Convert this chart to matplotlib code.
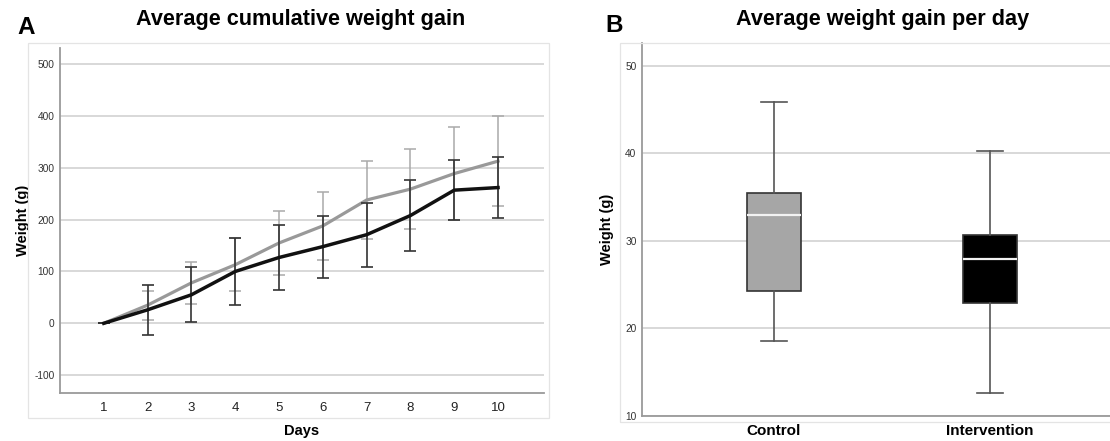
import matplotlib.pyplot as plt
from matplotlib.patches import Rectangle

plt.rcParams['font.family'] = ['Liberation Sans', 'DejaVu Sans']
plt.rcParams['axes.unicode_minus'] = False

# Panel A data: cumulative weight gain (g) per day
days = [1, 2, 3, 4, 5, 6, 7, 8, 9, 10]
control_mean = [0, 35, 78, 113, 155, 188, 238, 259, 289, 313]
control_err = [0, 28, 40, 51, 61, 66, 75, 77, 89, 87]
interv_mean = [0, 26, 55, 100, 127, 148, 171, 208, 257, 262]
interv_err = [0, 48, 53, 64, 62, 60, 62, 68, 58, 59]

# Panel B data: box plot summary of weight gain per day (g)
groups = ['Control', 'Intervention']
whisker_low = [18.5, 12.55]
q1 = [24.2, 22.85]
median = [32.9, 27.9]
q3 = [35.5, 30.7]
whisker_high = [45.8, 40.25]
box_colors = ['#a6a6a6', '#000000']

W, H = 1110, 441
fig = plt.figure(figsize=(W / 100, H / 100), dpi=100)

def fbox(x0, y0, x1, y1):
    # pixel box -> figure fraction [left, bottom, width, height]
    return [x0 / W, 1 - y1 / H, (x1 - x0) / W, (y1 - y0) / H]

# light chart frames
for (x0, y0, x1, y1) in [(28, 43, 549, 418), (620, 43, 1120, 421.7)]:
    fig.patches.append(Rectangle((x0 / W, 1 - y1 / H), (x1 - x0) / W, (y1 - y0) / H,
                                 transform=fig.transFigure, fill=False,
                                 edgecolor='#e4e4e4', lw=0.9, zorder=0))

grid_c = '#d2d2d2'
spine_c = '#9a9a9a'

# ---- Panel A
ax = fig.add_axes(fbox(60, 47.7, 543.6, 392.7))
ax.errorbar(days, control_mean, yerr=control_err, color='#999999', lw=2.3,
            ecolor='#aaaaaa', elinewidth=1.1, capsize=4.5, capthick=1.1, zorder=3)
ax.errorbar(days, interv_mean, yerr=interv_err, color='#111111', lw=2.5,
            ecolor='#333333', elinewidth=1.2, capsize=4.5, capthick=1.2, zorder=4)
ax.set_xlim(0, 11.04)
ax.set_ylim(-134, 532)
ax.set_xticks(days)
ax.set_yticks([-100, 0, 100, 200, 300, 400, 500])
ax.yaxis.grid(True, color=grid_c, lw=1.2)
ax.set_axisbelow(True)
ax.tick_params(axis='y', length=0, labelsize=7.3, labelcolor='#333333', pad=4)
ax.tick_params(axis='x', length=0, labelsize=9.5, labelcolor='#222222', pad=7)
for s in ['top', 'right']:
    ax.spines[s].set_visible(False)
for s in ['left', 'bottom']:
    ax.spines[s].set_color(spine_c)
    ax.spines[s].set_linewidth(1.3)
ax.set_xlabel('Days', fontsize=10.5, fontweight='bold', labelpad=7)
ax.set_ylabel('Weight (g)', fontsize=10.5, fontweight='bold', labelpad=3)

# ---- Panel B
bx = fig.add_axes(fbox(642, 43, 1110, 415.7))
stats = []
for i, g in enumerate(groups):
    stats.append({'label': g, 'whislo': whisker_low[i], 'q1': q1[i], 'med': median[i],
                  'q3': q3[i], 'whishi': whisker_high[i], 'fliers': []})
bp = bx.bxp(stats, positions=[1, 2], widths=0.25, patch_artist=True, showfliers=False,
            capwidths=0.12,
            boxprops=dict(edgecolor='#333333', lw=1.2),
            medianprops=dict(color='#f2f2f2', lw=1.6),
            whiskerprops=dict(color='#555555', lw=1.2),
            capprops=dict(color='#555555', lw=1.2))
for patch, c in zip(bp['boxes'], box_colors):
    patch.set_facecolor(c)
bx.set_xlim(0.39, 2.555)
bx.set_ylim(10, 52.6)
bx.set_yticks([10, 20, 30, 40, 50])
bx.yaxis.grid(True, color=grid_c, lw=1.2)
bx.set_axisbelow(True)
bx.tick_params(axis='y', length=0, labelsize=7.3, labelcolor='#333333', pad=4)
bx.tick_params(axis='x', length=0, pad=6)
for lbl in bx.get_xticklabels():
    lbl.set_fontsize(11)
    lbl.set_fontweight('bold')
for s in ['top', 'right']:
    bx.spines[s].set_visible(False)
for s in ['left', 'bottom']:
    bx.spines[s].set_color(spine_c)
    bx.spines[s].set_linewidth(1.3)
bx.set_ylabel('Weight (g)', fontsize=10.5, fontweight='bold', labelpad=8)

# titles and panel letters
fig.text(301 / W, 1 - 19 / H, 'Average cumulative weight gain', ha='center', va='center',
         fontsize=15.6, fontweight='bold')
fig.text(883 / W, 1 - 20 / H, 'Average weight gain per day', ha='center', va='center',
         fontsize=15.6, fontweight='bold')
fig.text(17 / W, 1 - 27 / H, 'A', ha='left', va='center', fontsize=17.5, fontweight='bold')
fig.text(605 / W, 1 - 25 / H, 'B', ha='left', va='center', fontsize=17.5, fontweight='bold')

fig.savefig('out.png', dpi=100)
